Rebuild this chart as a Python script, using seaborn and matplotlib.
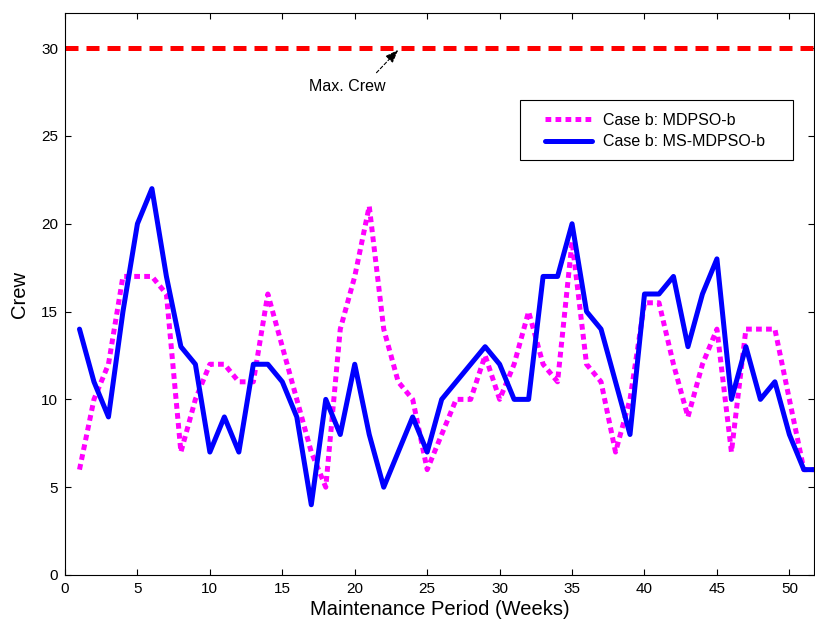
import matplotlib
matplotlib.use("Agg")
import matplotlib.pyplot as plt
from matplotlib.patches import Rectangle
import seaborn as sns
import numpy as np
import pandas as pd

weeks = list(range(1, 53))
mdpso_b = [6, 10, 12, 17, 17, 17, 16, 7, 10, 12,
           12, 11, 11, 16, 13, 10, 7, 5, 14, 17,
           21, 14, 11, 10, 6, 8, 10, 10, 12.5, 10,
           12, 15, 12, 11, 19, 12, 11, 7, 10, 15.5,
           15.5, 12, 9, 12, 14, 7, 14, 14, 14, 10,
           6, 6]
ms_mdpso_b = [14, 11, 9, 15, 20, 22, 17, 13, 12, 7,
              9, 7, 12, 12, 11, 9, 4, 10, 8, 12,
              8, 5, 7, 9, 7, 10, 11, 12, 13, 12,
              10, 10, 17, 17, 20, 15, 14, 11, 8, 16,
              16, 17, 13, 16, 18, 10, 13, 10, 11, 8,
              6, 6]
max_crew = 30
x_ticks = [0, 5, 10, 15, 20, 25, 30, 35, 40, 45, 50]
y_ticks = [0, 5, 10, 15, 20, 25, 30]
label_a = "Case b: MDPSO-b"
label_b = "Case b: MS-MDPSO-b"

sns.set_style("ticks")
plt.rcParams['font.family'] = ['Liberation Sans', 'DejaVu Sans']
plt.rcParams['text.color'] = 'black'
plt.rcParams['axes.labelcolor'] = 'black'
plt.rcParams['xtick.color'] = 'black'
plt.rcParams['ytick.color'] = 'black'

fig = plt.figure(figsize=(8.15, 6.28), dpi=100)
ax = fig.add_axes([65 / 815, 53 / 628, 749 / 815, 562 / 628])

ax.axhline(max_crew, color=(1, 0, 0), lw=3.6, linestyle=(0, (2.6, 1.6)),
           dash_capstyle='butt', zorder=2)

df = pd.DataFrame({"week": weeks, "a": mdpso_b, "b": ms_mdpso_b})
sns.lineplot(data=df, x="week", y="a", ax=ax, color=(1, 0, 1), lw=3.6,
             linestyle=(0, (1.15, 0.85)), label=label_a, zorder=3)
sns.lineplot(data=df, x="week", y="b", ax=ax, color=(0, 0, 1), lw=3.6,
             label=label_b, zorder=4)
for ln in ax.get_lines()[1:2]:
    ln.set_dash_capstyle('butt')

ax.set_xlim(0, 51.7)
ax.set_ylim(0, 32)
ax.set_xticks(x_ticks)
ax.set_yticks(y_ticks)
ax.tick_params(direction='in', top=True, right=True, length=4, width=0.8,
               labelsize=11, colors='black', pad=5)
for s in ax.spines.values():
    s.set_visible(True)
    s.set_color('black')
    s.set_linewidth(0.8)

ax.set_xlabel("Maintenance Period (Weeks)", fontsize=14.5, labelpad=3, color='black')
ax.set_ylabel("Crew", fontsize=14.5, labelpad=9, color='black')

ax.annotate('', xy=(23.0, 29.9), xytext=(21.5, 28.6),
            arrowprops=dict(arrowstyle='-|>,head_length=0.8,head_width=0.3',
                            linestyle=(0, (3, 2)), lw=0.8, color='black',
                            shrinkA=0, shrinkB=0))
ax.text(19.5, 27.8, "Max. Crew", fontsize=11.5, ha='center', va='center', color='black')

# legend box
ax.add_patch(Rectangle((0.6075, 0.7384), 0.972 - 0.6075, 0.845 - 0.7384,
                       transform=ax.transAxes, facecolor='white', edgecolor='black',
                       lw=0.8, zorder=5))
leg = ax.legend(loc='upper left', bbox_to_anchor=(0.641, 0.822), fontsize=11.5,
                frameon=False, handlelength=2.95, borderpad=0, labelspacing=0.4,
                handletextpad=0.7, borderaxespad=0, labelcolor='black')
leg.set_zorder(6)

fig.savefig("out.png", dpi=100)
